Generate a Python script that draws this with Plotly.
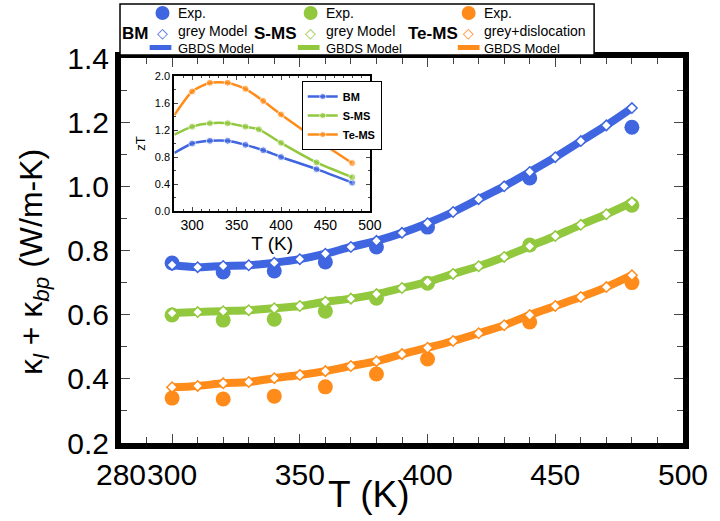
import plotly.graph_objects as go

# ---------------- data ----------------
T_exp = [300, 320, 340, 360, 380, 400, 440, 480]
bm_exp = [0.761, 0.733, 0.736, 0.764, 0.811, 0.873, 1.026, 1.184]
sms_exp = [0.599, 0.583, 0.586, 0.611, 0.651, 0.698, 0.817, 0.941]
tems_exp = [0.340, 0.337, 0.346, 0.375, 0.415, 0.462, 0.577, 0.700]

T_model = [300, 310, 320, 330, 340, 350, 360, 370, 380, 390,
           400, 410, 420, 430, 440, 450, 460, 470, 480]
bm_model = [0.755, 0.748, 0.752, 0.754, 0.762, 0.773, 0.790, 0.811, 0.830, 0.855,
            0.885, 0.920, 0.960, 1.000, 1.045, 1.091, 1.141, 1.190, 1.244]
sms_model = [0.605, 0.608, 0.611, 0.614, 0.620, 0.627, 0.640, 0.650, 0.664, 0.683,
             0.702, 0.727, 0.751, 0.780, 0.813, 0.845, 0.880, 0.913, 0.950]
tems_model = [0.374, 0.378, 0.386, 0.390, 0.402, 0.412, 0.424, 0.440, 0.455, 0.477,
              0.497, 0.518, 0.542, 0.567, 0.599, 0.627, 0.655, 0.686, 0.723]

# inset zT
T_zt_bm = [280, 300, 320, 340, 360, 380, 400, 440, 480]
zt_bm = [0.86, 1.00, 1.04, 1.04, 0.98, 0.90, 0.80, 0.62, 0.42]
T_zt_sms = [280, 300, 320, 340, 360, 375, 400, 440, 480]
zt_sms = [1.13, 1.25, 1.30, 1.30, 1.25, 1.21, 1.01, 0.72, 0.50]
T_zt_tems = [280, 300, 320, 340, 360, 380, 400, 440, 480]
zt_tems = [1.42, 1.77, 1.90, 1.90, 1.81, 1.63, 1.43, 1.06, 0.71]

x_ticks = [280, 300, 350, 400, 450, 500]
series_names = ["BM", "S-MS", "Te-MS"]
model_names = ["grey Model", "grey Model", "grey+dislocation"]

BLUE = "#3f66e0"
GREEN = "#92c83e"
ORANGE = "#ff8c1a"
colors = [BLUE, GREEN, ORANGE]
FONT = "Liberation Sans, Arial, sans-serif"

# geometry helpers (pixel -> paper)
W, H = 720, 521
L, R, TOP, BOT = 121, 690, 58, 443


def px(x):
    return (x - L) / (R - L)


def py(y):
    return (BOT - y) / (BOT - TOP)


fig = go.Figure()

exps = [bm_exp, sms_exp, tems_exp]
models = [bm_model, sms_model, tems_model]

# GBDS lines
for c, m in zip(colors, models):
    fig.add_trace(go.Scatter(x=T_model, y=m, mode="lines", line=dict(color=c, width=8, shape="spline"),
                             showlegend=False, hoverinfo="skip"))
# Exp dots
for c, e in zip(colors, exps):
    fig.add_trace(go.Scatter(x=T_exp, y=e, mode="markers", marker=dict(color=c, size=15, line=dict(width=0)),
                             showlegend=False))
# model diamonds
for c, m in zip(colors, models):
    fig.add_trace(go.Scatter(x=T_model, y=m, mode="markers",
                             marker=dict(symbol="diamond", color="white", size=8, line=dict(color=c, width=1.5)),
                             showlegend=False))

# inset
inset = [(T_zt_bm, zt_bm), (T_zt_sms, zt_sms), (T_zt_tems, zt_tems)]
for name, c, (tt, zz) in zip(series_names, colors, inset):
    sizes = [0] + [7] * (len(tt) - 1)
    fig.add_trace(go.Scatter(x=tt, y=zz, mode="lines+markers", name=name,
                             line=dict(color=c, width=2.5, shape="spline", smoothing=0.6),
                             marker=dict(color=c, size=sizes),
                             xaxis="x2", yaxis="y2", showlegend=True))

axis_common = dict(showgrid=False, zeroline=False, mirror="ticks", showline=True, linecolor="black",
                   ticks="inside", tickcolor="#444", tickwidth=1)

fig.update_layout(
    width=W, height=H,
    margin=dict(l=L, r=W - R, t=TOP, b=H - BOT),
    plot_bgcolor="white", paper_bgcolor="white",
    font=dict(family=FONT, color="black"),
    xaxis=dict(range=[280, 500], tickvals=x_ticks, ticktext=[str(v) for v in x_ticks], ticklen=9, linewidth=6,
               tickangle=0, tickfont=dict(size=30),
               minor=dict(dtick=10, tick0=280, ticklen=6, ticks="inside", tickcolor="#444"),
               **axis_common),
    yaxis=dict(range=[0.2, 1.4], dtick=0.2, tick0=0.2, tickformat=".1f", ticklen=9, linewidth=6,
               tickfont=dict(size=30), minor=dict(dtick=0.1, ticklen=6, ticks="inside", tickcolor="#444"),
               **axis_common),
    xaxis2=dict(domain=[px(175), px(373)], anchor="y2", range=[280, 500], dtick=50, tick0=300,
                ticklen=4, linewidth=2, tickangle=0, tickfont=dict(size=14),
                minor=dict(dtick=10, ticklen=2, ticks="inside"),
                title=dict(text="T (K)", font=dict(size=19), standoff=2), **axis_common),
    yaxis2=dict(domain=[py(211), py(76)], anchor="x2", range=[0, 2.0], dtick=0.4, tickformat=".1f",
                ticklen=4, linewidth=2, tickfont=dict(size=11),
                minor=dict(dtick=0.2, ticklen=2, ticks="inside"),
                title=dict(text="zT", font=dict(size=13), standoff=6), **axis_common),
    legend=dict(x=px(304), y=py(81), xanchor="left", yanchor="top",
                bgcolor="white", bordercolor="black", borderwidth=1,
                font=dict(size=11, family=FONT, weight="bold"), tracegroupgap=0, itemwidth=30),
)

annotations = []
shapes = []
# axis titles
annotations.append(dict(text="κ<sub><i>l</i></sub> + κ<sub><i>bp</i></sub> (W/m-K)", x=px(32), y=py(262),
                        xref="paper", yref="paper", showarrow=False, textangle=-90,
                        font=dict(size=32), xanchor="center", yanchor="middle"))
annotations.append(dict(text="T (K)", x=px(372), y=py(494), xref="paper", yref="paper", showarrow=False,
                        font=dict(size=37), xanchor="center", yanchor="middle"))

# main legend box
shapes.append(dict(type="rect", xref="paper", yref="paper", x0=px(120), x1=px(600), y0=py(55), y1=py(4),
                   line=dict(color="black", width=1.5), fillcolor="white", layer="above"))
groups = [(135, 163, 150, 177), (277, 313, 300, 327), (437, 473, 462, 487)]
for (gx, mx, lx, tx), name, mname, c in zip(groups, series_names, model_names, colors):
    annotations.append(dict(text=f"<b>{name}</b>", x=px(gx), y=py(33), xref="paper", yref="paper",
                            showarrow=False, font=dict(size=17), xanchor="center", yanchor="middle"))
    shapes.append(dict(type="circle", xref="paper", yref="paper", xsizemode="pixel", ysizemode="pixel",
                       xanchor=px(mx), yanchor=py(13), x0=-7, x1=7, y0=-7, y1=7,
                       fillcolor=c, line=dict(width=0), layer="above"))
    annotations.append(dict(text="◇", x=px(mx), y=py(33), xref="paper", yref="paper", showarrow=False,
                            font=dict(size=14, color=c, family="DejaVu Sans"), xanchor="center", yanchor="middle"))
    shapes.append(dict(type="rect", xref="paper", yref="paper", x0=px(lx), x1=px(lx + 22),
                       y0=py(50), y1=py(45), fillcolor=c, line=dict(width=0), layer="above"))
    annotations.append(dict(text="Exp.", x=px(tx), y=py(13), xref="paper", yref="paper", showarrow=False,
                            font=dict(size=14), xanchor="left", yanchor="middle"))
    annotations.append(dict(text=mname, x=px(tx), y=py(31), xref="paper", yref="paper", showarrow=False,
                            font=dict(size=14), xanchor="left", yanchor="middle"))
    annotations.append(dict(text="GBDS Model", x=px(tx), y=py(48), xref="paper", yref="paper",
                            showarrow=False, font=dict(size=13), xanchor="left", yanchor="middle"))

fig.update_layout(annotations=annotations, shapes=shapes)
fig.write_html("out.html")
